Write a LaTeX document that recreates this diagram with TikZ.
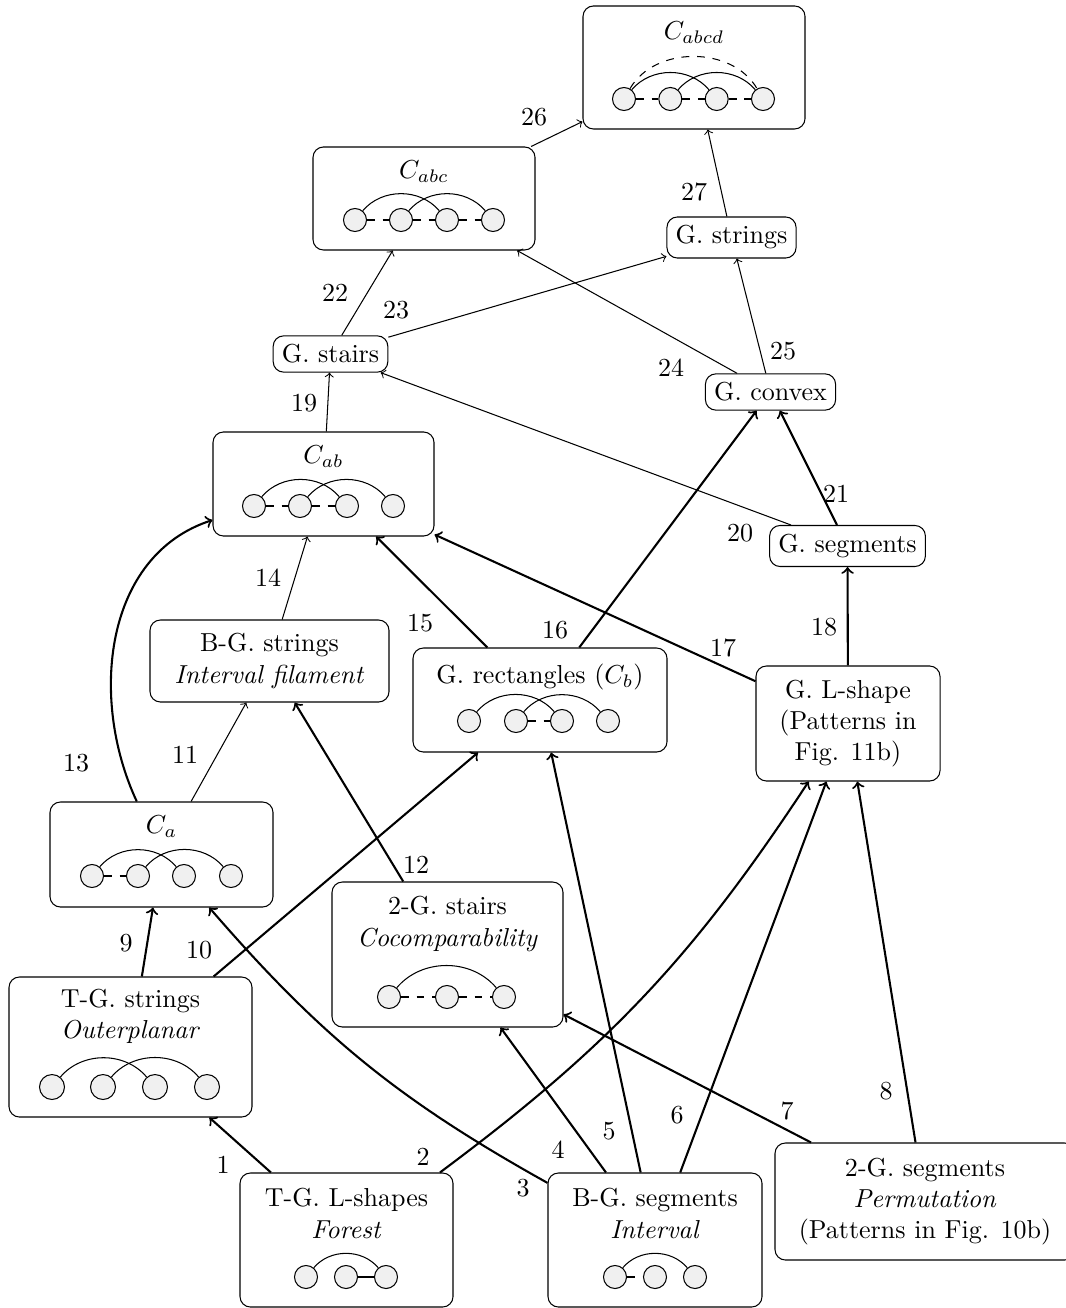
\documentclass[tikz,border=0pt]{standalone}
\begin{document}
\begin{tikzpicture}[x=0.3846pt,y=-0.3846pt,
  box/.style={draw, rounded corners=4pt, inner sep=0pt},
  lbl/.style={draw, rounded corners=4pt},
  vtx/.style={circle, draw, fill=black!6, minimum size=8.85pt, inner sep=0pt},
  bigvtx/.style={vtx, minimum size=9.6pt},
  hop/.style={out=50,in=130},
  thk/.style={thick,->},
  thn/.style={->},
  num/.style={inner sep=0pt},
  sz/.style 2 args={minimum width=#1*0.3846pt, minimum height=#2*0.3846pt}
]
\useasboundingbox (0,0) rectangle (1065,1308);

% ---------- boxes ----------
\node[box, sz={222}{123}] (cabcd) at (694,67.5) {};
\node[box, sz={222}{103}] (cabc) at (424,198.5) {};
\node[lbl] (gstr) at (731.5,237.5) {G. strings};
\node[lbl] (gsta) at (330.5,354) {G. stairs};
\node[lbl] (gcvx) at (770.5,392) {G. convex};
\node[box, sz={221}{104}] (cab) at (323.5,484) {};
\node[lbl] (gseg) at (847.5,546) {G. segments};
\node[box, sz={239}{82}, align=center] (bgstr) at (269.5,661) {B-G. strings\\\textit{Interval filament}};
\node[box, sz={254}{104}] (grect) at (540,700) {};
\node[box, sz={184}{115}, align=center] (gl) at (848,723.5) {G. L-shape\\(Patterns in\\Fig. 11b)};
\node[box, sz={223}{105}] (ca) at (161.5,854.5) {};
\node[box, sz={231}{145}] (gst2) at (447.5,954.5) {};
\node[box, sz={243}{140}] (tgstr) at (130.5,1047) {};
\node[box, sz={213}{134}] (tgl) at (346.5,1240) {};
\node[box, sz={214}{134}] (bgseg) at (655,1240) {};
\node[box, sz={300}{117}, align=center] (gseg2) at (925,1201.5) {2-G. segments\\\textit{Permutation}\\(Patterns in Fig. 10b)};

% ---------- titles inside boxes ----------
\node (tabcd) at (694,33) {$C_{abcd}$};
\node (tabc) at (424,172) {$C_{abc}$};
\node (tab) at (323.5,457) {$C_{ab}$};
\node (trect) at (540,677) {G. rectangles ($C_b$)};
\node (ta) at (161.5,827) {$C_a$};
\node[align=center] (tst2) at (447.5,924) {2-G. stairs\\\textit{Cocomparability}};
\node[align=center] (ttgs) at (130.5,1016.5) {T-G. strings\\\textit{Outerplanar}};
\node[align=center] (ttgl) at (346.5,1213.5) {T-G. L-shapes\\\textit{Forest}};
\node[align=center] (tbgs) at (655,1213.5) {B-G. segments\\\textit{Interval}};

% ---------- small graphs ----------
% C_abcd
\node[vtx] (d1) at (624,99) {};
\node[vtx] (d2) at (670.3,99) {};
\node[vtx] (d3) at (716.7,99) {};
\node[vtx] (d4) at (763,99) {};
\draw (d1) to[hop] (d3);
\draw (d2) to[hop] (d4);
\draw[dashed] (d1) to[out=60,in=120] (d4);
\draw[dashed] (d1) -- (d2);
\draw[dashed] (d2) -- (d3);
\draw[dashed] (d3) -- (d4);
% C_abc
\node[vtx] (c1) at (355,220) {};
\node[vtx] (c2) at (401,220) {};
\node[vtx] (c3) at (447,220) {};
\node[vtx] (c4) at (493,220) {};
\draw (c1) to[hop] (c3);
\draw (c2) to[hop] (c4);
\draw[dashed] (c1) -- (c2);
\draw[dashed] (c2) -- (c3);
\draw[dashed] (c3) -- (c4);
% C_ab
\node[vtx] (b1) at (254,506) {};
\node[vtx] (b2) at (300,506) {};
\node[vtx] (b3) at (347,506) {};
\node[vtx] (b4) at (393,506) {};
\draw (b1) to[hop] (b3);
\draw (b2) to[hop] (b4);
\draw[dashed] (b1) -- (b2);
\draw[dashed] (b2) -- (b3);
% G. rectangles
\node[vtx] (r1) at (469,721) {};
\node[vtx] (r2) at (516,721) {};
\node[vtx] (r3) at (562,721) {};
\node[vtx] (r4) at (608,721) {};
\draw (r1) to[hop] (r3);
\draw (r2) to[hop] (r4);
\draw[dashed] (r2) -- (r3);
% C_a
\node[vtx] (a1) at (92,876) {};
\node[vtx] (a2) at (138,876) {};
\node[vtx] (a3) at (184,876) {};
\node[vtx] (a4) at (231,876) {};
\draw (a1) to[hop] (a3);
\draw (a2) to[hop] (a4);
\draw[dashed] (a1) -- (a2);
% 2-G. stairs
\node[vtx] (s1) at (389,997) {};
\node[vtx] (s2) at (447,997) {};
\node[vtx] (s3) at (504,997) {};
\draw (s1) to[hop] (s3);
\draw[dashed] (s1) -- (s2);
\draw[dashed] (s2) -- (s3);
% T-G. strings
\node[bigvtx] (o1) at (52,1087) {};
\node[bigvtx] (o2) at (103,1087) {};
\node[bigvtx] (o3) at (155,1087) {};
\node[bigvtx] (o4) at (207,1087) {};
\draw (o1) to[hop] (o3);
\draw (o2) to[hop] (o4);
% T-G. L-shapes
\node[vtx] (f1) at (306,1277) {};
\node[vtx] (f2) at (346,1277) {};
\node[vtx] (f3) at (386,1277) {};
\draw (f1) to[hop] (f3);
\draw (f2) -- (f3);
% B-G. segments
\node[vtx] (i1) at (615,1277) {};
\node[vtx] (i2) at (655,1277) {};
\node[vtx] (i3) at (695,1277) {};
\draw (i1) to[hop] (i3);
\draw[dashed] (i1) -- (i2);

% ---------- connectors ----------
\draw[thk] (tgl) -- (tgstr);                 % 1
\draw[thk] (tgl) to[bend right=10] (gl);      % 2
\draw[thk] (bgseg) to[bend left=10] (ca);     % 3
\draw[thk] (bgseg) -- (gst2);                 % 4
\draw[thk] (bgseg) -- (grect);                % 5
\draw[thk] (bgseg) -- (gl);                   % 6
\draw[thk] (gseg2) -- (gst2);                 % 7
\draw[thk] (gseg2) -- (gl);                   % 8
\draw[thk] (tgstr) -- (ca);                   % 9
\draw[thk] (tgstr) -- (grect);                % 10
\draw[thn] (ca) -- (bgstr);                   % 11
\draw[thk] (gst2) -- (bgstr);                 % 12
\draw[thk] (ca) to[out=115,in=198] (cab);     % 13
\draw[thn] (bgstr) -- (cab);                  % 14
\draw[thk] (grect) -- (cab);                  % 15
\draw[thk] (grect) -- (gcvx);                 % 16
\draw[thk] (gl) -- (cab);                     % 17
\draw[thk] (gl) -- (gseg);                    % 18
\draw[thn] (cab) -- (gsta);                   % 19
\draw[thn] (gseg) -- (gsta);                  % 20
\draw[thk] (gseg) -- (gcvx);                  % 21
\draw[thn] (gsta) -- (cabc);                  % 22
\draw[thn] (gsta) -- (gstr);                  % 23
\draw[thn] (gcvx) -- (cabc);                  % 24
\draw[thn] (gcvx) -- (gstr);                  % 25
\draw[thn] (cabc) -- (cabcd);                 % 26
\draw[thn] (gstr) -- (cabcd);                 % 27

% ---------- edge numbers ----------
\node[num] (n1) at (223,1165) {1};
\node[num] (n2) at (423,1157) {2};
\node[num] (n3) at (523,1188) {3};
\node[num] (n4) at (558,1150) {4};
\node[num] (n5) at (609,1131) {5};
\node[num] (n6) at (677,1115) {6};
\node[num] (n7) at (787,1111) {7};
\node[num] (n8) at (886,1091) {8};
\node[num] (n9) at (126,943) {9};
\node[num] (n10) at (199,950) {10};
\node[num] (n11) at (185,755) {11};
\node[num] (n12) at (416,865) {12};
\node[num] (n13) at (76,763) {13};
\node[num] (n14) at (268,578) {14};
\node[num] (n15) at (420,623) {15};
\node[num] (n16) at (555,630) {16};
\node[num] (n17) at (723,648) {17};
\node[num] (n18) at (824,627) {18};
\node[num] (n19) at (304,403) {19};
\node[num] (n20) at (740,533) {20};
\node[num] (n21) at (836,494) {21};
\node[num] (n22) at (335,293) {22};
\node[num] (n23) at (396,310) {23};
\node[num] (n24) at (671,368) {24};
\node[num] (n25) at (783,351) {25};
\node[num] (n26) at (534,117) {26};
\node[num] (n27) at (694,192) {27};
\end{tikzpicture}
\end{document}
